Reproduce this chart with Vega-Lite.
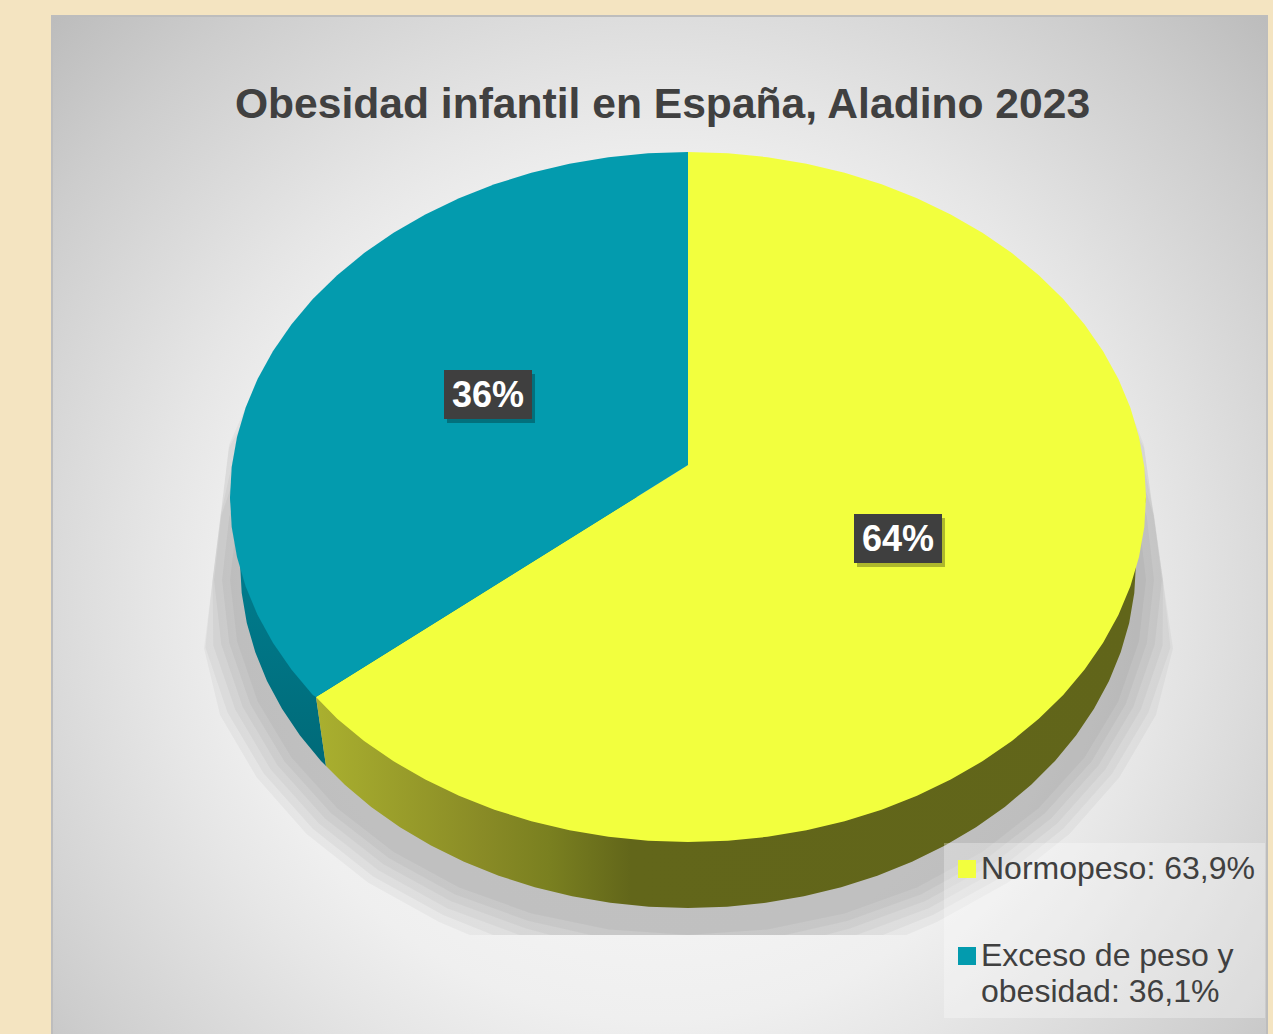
{"$schema":"https://vega.github.io/schema/vega-lite/v6.json","autosize":"none","width":1215,"height":1020,"padding":{"left":52,"top":16,"right":6,"bottom":0},"background":"#f4e4c1",
"view":{"fill":{"gradient":"radial","x1":0.5,"y1":0.56,"r1":0,"x2":0.5,"y2":0.56,"r2":0.693,"stops":[{"offset":0,"color":"#f6f6f6"},{"offset":0.4,"color":"#f2f2f2"},{"offset":0.5,"color":"#efefef"},{"offset":0.6,"color":"#e6e6e6"},{"offset":0.7,"color":"#dcdcdc"},{"offset":0.85,"color":"#cdcdcd"},{"offset":1,"color":"#bcbcbc"}]},"stroke":"#bdbdbd","strokeWidth":2},
"title":{"text":"Obesidad infantil en España, Aladino 2023","font":"Liberation Sans","fontSize":42.6,"fontWeight":"bold","color":"#404040","anchor":"middle","baseline":"alphabetic","offset":-145,"dx":3},
"datasets":{
"shadow":[
{"ring":1,"i":0,"x":1084.6,"y":402.5},{"ring":1,"i":1,"x":1118.4,"y":458.6},{"ring":1,"i":2,"x":1139,"y":518.4},{"ring":1,"i":3,"x":1146,"y":580},{"ring":1,"i":4,"x":1139,"y":641.6},{"ring":1,"i":5,"x":1118.4,"y":701.4},{"ring":1,"i":6,"x":1084.6,"y":757.5},{"ring":1,"i":7,"x":1038.8,"y":808.2},{"ring":1,"i":8,"x":982.4,"y":851.9},{"ring":1,"i":9,"x":917,"y":887.4},{"ring":1,"i":10,"x":844.6,"y":913.6},{"ring":1,"i":11,"x":767.5,"y":929.6},{"ring":1,"i":12,"x":688,"y":935},{"ring":1,"i":13,"x":608.5,"y":929.6},{"ring":1,"i":14,"x":531.4,"y":913.6},{"ring":1,"i":15,"x":459,"y":887.4},{"ring":1,"i":16,"x":393.6,"y":851.9},{"ring":1,"i":17,"x":337.2,"y":808.2},{"ring":1,"i":18,"x":291.4,"y":757.5},{"ring":1,"i":19,"x":257.6,"y":701.4},{"ring":1,"i":20,"x":237,"y":641.6},{"ring":1,"i":21,"x":230,"y":580},{"ring":1,"i":22,"x":237,"y":518.4},{"ring":1,"i":23,"x":257.6,"y":458.6},{"ring":1,"i":24,"x":291.4,"y":402.5},
{"ring":2,"i":0,"x":1091.6,"y":398.5},{"ring":2,"i":1,"x":1125.9,"y":455.9},{"ring":2,"i":2,"x":1146.9,"y":517},{"ring":2,"i":3,"x":1154,"y":580},{"ring":2,"i":4,"x":1146.9,"y":643},{"ring":2,"i":5,"x":1125.9,"y":704.1},{"ring":2,"i":6,"x":1091.6,"y":761.5},{"ring":2,"i":7,"x":1045,"y":813.3},{"ring":2,"i":8,"x":987.5,"y":858.1},{"ring":2,"i":9,"x":921,"y":894.4},{"ring":2,"i":10,"x":847.4,"y":921.1},{"ring":2,"i":11,"x":785.3,"y":935},{"ring":2,"i":12,"x":590.7,"y":935},{"ring":2,"i":13,"x":528.6,"y":921.1},{"ring":2,"i":14,"x":455,"y":894.4},{"ring":2,"i":15,"x":388.5,"y":858.1},{"ring":2,"i":16,"x":331,"y":813.3},{"ring":2,"i":17,"x":284.4,"y":761.5},{"ring":2,"i":18,"x":250.1,"y":704.1},{"ring":2,"i":19,"x":229.1,"y":643},{"ring":2,"i":20,"x":222,"y":580},{"ring":2,"i":21,"x":229.1,"y":517},{"ring":2,"i":22,"x":250.1,"y":455.9},{"ring":2,"i":23,"x":284.4,"y":398.5},
{"ring":3,"i":0,"x":1098.5,"y":394.5},{"ring":3,"i":1,"x":1133.4,"y":453.1},{"ring":3,"i":2,"x":1154,"y":515.6},{"ring":3,"i":3,"x":1162,"y":580},{"ring":3,"i":4,"x":1154.8,"y":644.4},{"ring":3,"i":5,"x":1133.4,"y":706.9},{"ring":3,"i":6,"x":1098.5,"y":765.5},{"ring":3,"i":7,"x":1051.1,"y":818.5},{"ring":3,"i":8,"x":992.7,"y":864.2},{"ring":3,"i":9,"x":925,"y":901.3},{"ring":3,"i":10,"x":850.1,"y":928.6},{"ring":3,"i":11,"x":825.7,"y":935},{"ring":3,"i":12,"x":550.3,"y":935},{"ring":3,"i":13,"x":525.9,"y":928.6},{"ring":3,"i":14,"x":451,"y":901.3},{"ring":3,"i":15,"x":383.3,"y":864.2},{"ring":3,"i":16,"x":324.9,"y":818.5},{"ring":3,"i":17,"x":277.5,"y":765.5},{"ring":3,"i":18,"x":242.6,"y":706.9},{"ring":3,"i":19,"x":221.2,"y":644.4},{"ring":3,"i":20,"x":214,"y":580},{"ring":3,"i":21,"x":221.2,"y":515.6},{"ring":3,"i":22,"x":242.6,"y":453.1},{"ring":3,"i":23,"x":277.5,"y":394.5},
{"ring":4,"i":0,"x":1105.4,"y":390.5},{"ring":4,"i":1,"x":1140.9,"y":450.4},{"ring":4,"i":2,"x":1154,"y":514.2},{"ring":4,"i":3,"x":1163,"y":580},{"ring":4,"i":4,"x":1162.7,"y":645.8},{"ring":4,"i":5,"x":1140.9,"y":709.6},{"ring":4,"i":6,"x":1105.4,"y":769.5},{"ring":4,"i":7,"x":1057.2,"y":823.6},{"ring":4,"i":8,"x":997.8,"y":870.3},{"ring":4,"i":9,"x":929,"y":908.2},{"ring":4,"i":10,"x":856.8,"y":935},{"ring":4,"i":11,"x":519.2,"y":935},{"ring":4,"i":12,"x":447,"y":908.2},{"ring":4,"i":13,"x":378.2,"y":870.3},{"ring":4,"i":14,"x":318.8,"y":823.6},{"ring":4,"i":15,"x":270.6,"y":769.5},{"ring":4,"i":16,"x":235.1,"y":709.6},{"ring":4,"i":17,"x":213.3,"y":645.8},{"ring":4,"i":18,"x":212.5,"y":580},{"ring":4,"i":19,"x":220.7,"y":514.2},{"ring":4,"i":20,"x":235.1,"y":450.4},{"ring":4,"i":21,"x":270.6,"y":390.5},
{"ring":5,"i":0,"x":1112.3,"y":386.5},{"ring":5,"i":1,"x":1144,"y":447.6},{"ring":5,"i":2,"x":1153.5,"y":512.8},{"ring":5,"i":3,"x":1163,"y":580},{"ring":5,"i":4,"x":1170.6,"y":647.2},{"ring":5,"i":5,"x":1148.5,"y":712.4},{"ring":5,"i":6,"x":1112.3,"y":773.5},{"ring":5,"i":7,"x":1063.3,"y":828.8},{"ring":5,"i":8,"x":1003,"y":876.4},{"ring":5,"i":9,"x":933,"y":915.1},{"ring":5,"i":10,"x":883.1,"y":935},{"ring":5,"i":11,"x":492.9,"y":935},{"ring":5,"i":12,"x":443,"y":915.1},{"ring":5,"i":13,"x":373,"y":876.4},{"ring":5,"i":14,"x":312.7,"y":828.8},{"ring":5,"i":15,"x":263.7,"y":773.5},{"ring":5,"i":16,"x":227.5,"y":712.4},{"ring":5,"i":17,"x":205.4,"y":647.2},{"ring":5,"i":18,"x":212.5,"y":580},{"ring":5,"i":19,"x":221,"y":512.8},{"ring":5,"i":20,"x":229,"y":447.6},{"ring":5,"i":21,"x":263.7,"y":386.5},
{"ring":6,"i":0,"x":1119.3,"y":382.5},{"ring":6,"i":1,"x":1144,"y":444.9},{"ring":6,"i":2,"x":1153,"y":511.4},{"ring":6,"i":3,"x":1163,"y":580},{"ring":6,"i":4,"x":1173,"y":648.6},{"ring":6,"i":5,"x":1156,"y":715.1},{"ring":6,"i":6,"x":1119.3,"y":777.5},{"ring":6,"i":7,"x":1069.5,"y":833.9},{"ring":6,"i":8,"x":1008.1,"y":882.6},{"ring":6,"i":9,"x":937,"y":922.1},{"ring":6,"i":10,"x":906.4,"y":935},{"ring":6,"i":11,"x":469.6,"y":935},{"ring":6,"i":12,"x":439,"y":922.1},{"ring":6,"i":13,"x":367.9,"y":882.6},{"ring":6,"i":14,"x":306.5,"y":833.9},{"ring":6,"i":15,"x":256.7,"y":777.5},{"ring":6,"i":16,"x":220,"y":715.1},{"ring":6,"i":17,"x":204,"y":648.6},{"ring":6,"i":18,"x":212.5,"y":580},{"ring":6,"i":19,"x":221,"y":511.4},{"ring":6,"i":20,"x":229,"y":444.9},{"ring":6,"i":21,"x":256.7,"y":382.5}],
"wallYellow":[{"i":0,"x":1146,"y":497},{"i":1,"x":1136,"y":563},{"i":2,"x":1134.3,"y":593.1},{"i":3,"x":1129.2,"y":622.9},{"i":4,"x":1120.7,"y":652.3},{"i":5,"x":1109,"y":681},{"i":6,"x":1094,"y":708.8},{"i":7,"x":1076,"y":735.5},{"i":8,"x":1055,"y":760.9},{"i":9,"x":1031.2,"y":784.8},{"i":10,"x":1004.8,"y":806.9},{"i":11,"x":976,"y":827.3},{"i":12,"x":945,"y":845.6},{"i":13,"x":912,"y":861.8},{"i":14,"x":877.3,"y":875.7},{"i":15,"x":841.2,"y":887.2},{"i":16,"x":803.9,"y":896.2},{"i":17,"x":765.8,"y":902.8},{"i":18,"x":727.1,"y":906.7},{"i":19,"x":688,"y":908},{"i":20,"x":648.9,"y":906.7},{"i":21,"x":610.2,"y":902.8},{"i":22,"x":572.1,"y":896.2},{"i":23,"x":534.8,"y":887.2},{"i":24,"x":498.7,"y":875.7},{"i":25,"x":464,"y":861.8},{"i":26,"x":431,"y":845.6},{"i":27,"x":400,"y":827.3},{"i":28,"x":371.2,"y":806.9},{"i":29,"x":344.8,"y":784.8},{"i":30,"x":326,"y":766},{"i":31,"x":316,"y":697},{"i":32,"x":688,"y":497}],
"wallTeal":[{"i":0,"x":316,"y":697},{"i":1,"x":326,"y":766},{"i":2,"x":321,"y":760.9},{"i":3,"x":300,"y":735.5},{"i":4,"x":282,"y":708.8},{"i":5,"x":267,"y":681},{"i":6,"x":255.3,"y":652.3},{"i":7,"x":246.8,"y":622.9},{"i":8,"x":241.7,"y":593.1},{"i":9,"x":240,"y":563},{"i":10,"x":230,"y":497},{"i":11,"x":688,"y":497}],
"slices":[
{"serie":"Normopeso: 63,9%","i":0,"x":688,"y":465},{"serie":"Normopeso: 63,9%","i":1,"x":688,"y":152},{"serie":"Normopeso: 63,9%","i":2,"x":727.9,"y":153.3},{"serie":"Normopeso: 63,9%","i":3,"x":767.5,"y":157.2},{"serie":"Normopeso: 63,9%","i":4,"x":806.5,"y":163.8},{"serie":"Normopeso: 63,9%","i":5,"x":844.6,"y":172.8},{"serie":"Normopeso: 63,9%","i":6,"x":881.6,"y":184.3},{"serie":"Normopeso: 63,9%","i":7,"x":917,"y":198.2},{"serie":"Normopeso: 63,9%","i":8,"x":950.7,"y":214.4},{"serie":"Normopeso: 63,9%","i":9,"x":982.4,"y":232.7},{"serie":"Normopeso: 63,9%","i":10,"x":1011.9,"y":253.1},{"serie":"Normopeso: 63,9%","i":11,"x":1038.8,"y":275.2},{"serie":"Normopeso: 63,9%","i":12,"x":1063.2,"y":299.1},{"serie":"Normopeso: 63,9%","i":13,"x":1084.6,"y":324.5},{"serie":"Normopeso: 63,9%","i":14,"x":1103.1,"y":351.2},{"serie":"Normopeso: 63,9%","i":15,"x":1118.4,"y":379},{"serie":"Normopeso: 63,9%","i":16,"x":1130.4,"y":407.7},{"serie":"Normopeso: 63,9%","i":17,"x":1139,"y":437.1},{"serie":"Normopeso: 63,9%","i":18,"x":1144.3,"y":466.9},{"serie":"Normopeso: 63,9%","i":19,"x":1146,"y":497},{"serie":"Normopeso: 63,9%","i":20,"x":1144.3,"y":527.1},{"serie":"Normopeso: 63,9%","i":21,"x":1139,"y":556.9},{"serie":"Normopeso: 63,9%","i":22,"x":1130.4,"y":586.3},{"serie":"Normopeso: 63,9%","i":23,"x":1118.4,"y":615},{"serie":"Normopeso: 63,9%","i":24,"x":1103.1,"y":642.8},{"serie":"Normopeso: 63,9%","i":25,"x":1084.6,"y":669.5},{"serie":"Normopeso: 63,9%","i":26,"x":1063.2,"y":694.9},{"serie":"Normopeso: 63,9%","i":27,"x":1038.8,"y":718.8},{"serie":"Normopeso: 63,9%","i":28,"x":1011.9,"y":740.9},{"serie":"Normopeso: 63,9%","i":29,"x":982.4,"y":761.3},{"serie":"Normopeso: 63,9%","i":30,"x":950.7,"y":779.6},{"serie":"Normopeso: 63,9%","i":31,"x":917,"y":795.8},{"serie":"Normopeso: 63,9%","i":32,"x":881.6,"y":809.7},{"serie":"Normopeso: 63,9%","i":33,"x":844.6,"y":821.2},{"serie":"Normopeso: 63,9%","i":34,"x":806.5,"y":830.2},{"serie":"Normopeso: 63,9%","i":35,"x":767.5,"y":836.8},{"serie":"Normopeso: 63,9%","i":36,"x":727.9,"y":840.7},{"serie":"Normopeso: 63,9%","i":37,"x":688,"y":842},{"serie":"Normopeso: 63,9%","i":38,"x":648.1,"y":840.7},{"serie":"Normopeso: 63,9%","i":39,"x":608.5,"y":836.8},{"serie":"Normopeso: 63,9%","i":40,"x":569.5,"y":830.2},{"serie":"Normopeso: 63,9%","i":41,"x":531.4,"y":821.2},{"serie":"Normopeso: 63,9%","i":42,"x":494.4,"y":809.7},{"serie":"Normopeso: 63,9%","i":43,"x":459,"y":795.8},{"serie":"Normopeso: 63,9%","i":44,"x":425.3,"y":779.6},{"serie":"Normopeso: 63,9%","i":45,"x":393.6,"y":761.3},{"serie":"Normopeso: 63,9%","i":46,"x":364.1,"y":740.9},{"serie":"Normopeso: 63,9%","i":47,"x":337.2,"y":718.8},{"serie":"Normopeso: 63,9%","i":48,"x":316,"y":697},
{"serie":"Exceso de peso y obesidad: 36,1%","i":0,"x":688,"y":465},{"serie":"Exceso de peso y obesidad: 36,1%","i":1,"x":316,"y":697},{"serie":"Exceso de peso y obesidad: 36,1%","i":2,"x":312.8,"y":694.9},{"serie":"Exceso de peso y obesidad: 36,1%","i":3,"x":291.4,"y":669.5},{"serie":"Exceso de peso y obesidad: 36,1%","i":4,"x":272.9,"y":642.8},{"serie":"Exceso de peso y obesidad: 36,1%","i":5,"x":257.6,"y":615},{"serie":"Exceso de peso y obesidad: 36,1%","i":6,"x":245.6,"y":586.3},{"serie":"Exceso de peso y obesidad: 36,1%","i":7,"x":237,"y":556.9},{"serie":"Exceso de peso y obesidad: 36,1%","i":8,"x":231.7,"y":527.1},{"serie":"Exceso de peso y obesidad: 36,1%","i":9,"x":230,"y":497},{"serie":"Exceso de peso y obesidad: 36,1%","i":10,"x":231.7,"y":466.9},{"serie":"Exceso de peso y obesidad: 36,1%","i":11,"x":237,"y":437.1},{"serie":"Exceso de peso y obesidad: 36,1%","i":12,"x":245.6,"y":407.7},{"serie":"Exceso de peso y obesidad: 36,1%","i":13,"x":257.6,"y":379},{"serie":"Exceso de peso y obesidad: 36,1%","i":14,"x":272.9,"y":351.2},{"serie":"Exceso de peso y obesidad: 36,1%","i":15,"x":291.4,"y":324.5},{"serie":"Exceso de peso y obesidad: 36,1%","i":16,"x":312.8,"y":299.1},{"serie":"Exceso de peso y obesidad: 36,1%","i":17,"x":337.2,"y":275.2},{"serie":"Exceso de peso y obesidad: 36,1%","i":18,"x":364.1,"y":253.1},{"serie":"Exceso de peso y obesidad: 36,1%","i":19,"x":393.6,"y":232.7},{"serie":"Exceso de peso y obesidad: 36,1%","i":20,"x":425.3,"y":214.4},{"serie":"Exceso de peso y obesidad: 36,1%","i":21,"x":459,"y":198.2},{"serie":"Exceso de peso y obesidad: 36,1%","i":22,"x":494.4,"y":184.3},{"serie":"Exceso de peso y obesidad: 36,1%","i":23,"x":531.4,"y":172.8},{"serie":"Exceso de peso y obesidad: 36,1%","i":24,"x":569.5,"y":163.8},{"serie":"Exceso de peso y obesidad: 36,1%","i":25,"x":608.5,"y":157.2},{"serie":"Exceso de peso y obesidad: 36,1%","i":26,"x":648.1,"y":153.3},{"serie":"Exceso de peso y obesidad: 36,1%","i":27,"x":688,"y":152}],
"labels":[{"label":"36%","x":488,"y":394.5},{"label":"64%","x":898,"y":538.5}]
},
"encoding":{"x":{"field":"x","type":"quantitative","scale":{"domain":[52,1267],"nice":false,"zero":false},"axis":null},"y":{"field":"y","type":"quantitative","scale":{"domain":[1036,16],"nice":false,"zero":false},"axis":null}},
"layer":[
{"data":{"name":"shadow"},"mark":{"type":"line","strokeWidth":0,"fill":"#000000","fillOpacity":0.035},"encoding":{"order":{"field":"i"},"detail":{"field":"ring"}}},
{"data":{"name":"wallTeal"},"mark":{"type":"line","strokeWidth":0,"fill":{"gradient":"linear","x1":0,"y1":0,"x2":0,"y2":1,"stops":[{"offset":0,"color":"#008295"},{"offset":1,"color":"#006a78"}]}},"encoding":{"order":{"field":"i"}}},
{"data":{"name":"wallYellow"},"mark":{"type":"line","strokeWidth":0,"fill":{"gradient":"linear","x1":0,"y1":0,"x2":1,"y2":0,"stops":[{"offset":0,"color":"#aab02f"},{"offset":0.2,"color":"#898b26"},{"offset":0.28,"color":"#7a8020"},{"offset":0.38,"color":"#62661a"},{"offset":1,"color":"#61651a"}]}},"encoding":{"order":{"field":"i"}}},
{"data":{"name":"slices"},"mark":{"type":"line","strokeWidth":0},"encoding":{"order":{"field":"i"},"fill":{"field":"serie","type":"nominal","scale":{"domain":["Normopeso: 63,9%","Exceso de peso y obesidad: 36,1%"],"range":["#f2ff3e","#039bae"]},"legend":{"title":null,"orient":"none","legendX":892,"legendY":827,"fillColor":"rgba(255,255,255,0.3)","padding":10,"symbolType":"square","symbolSize":324,"symbolStrokeWidth":0,"symbolOffset":-3,"labelFont":"Liberation Sans","labelFontSize":32,"labelColor":"#404040","labelLimit":400,"labelOffset":-2,"rowPadding":55,"labelExpr":"datum.label == 'Exceso de peso y obesidad: 36,1%' ? ['Exceso de peso y','obesidad: 36,1%'] : datum.label","encoding":{"labels":{"lineHeight":{"value":36}}}}}}},
{"data":{"name":"labels"},"mark":{"type":"rect","width":88,"height":49,"fill":"#000000","opacity":0.28,"xOffset":3,"yOffset":4}},
{"data":{"name":"labels"},"mark":{"type":"rect","width":88,"height":49,"fill":"#3f3f3f"}},
{"data":{"name":"labels"},"mark":{"type":"text","font":"Liberation Sans","fontSize":36,"fontWeight":"bold","color":"#ffffff","baseline":"middle","align":"center","dy":1},"encoding":{"text":{"field":"label"}}}
]}
